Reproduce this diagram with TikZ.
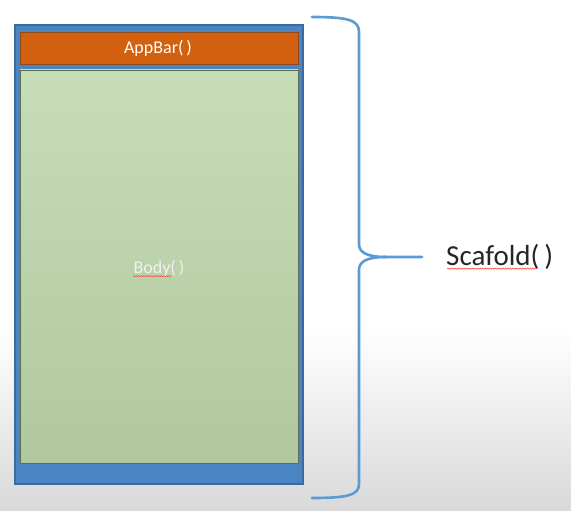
\documentclass[tikz,border=0pt]{standalone}
\usepackage{fontspec}
\setmainfont{Carlito}
\usetikzlibrary{decorations.pathmorphing}
\definecolor{bgbot}{HTML}{D9D9D9}
\definecolor{scafblue}{HTML}{4A84C2}
\definecolor{scafedge}{HTML}{3C6A9C}
\definecolor{appor}{HTML}{D2600F}
\definecolor{appedge}{HTML}{8E4A1A}
\definecolor{bodytop}{HTML}{C7DDB7}
\definecolor{bodybot}{HTML}{B1C79F}
\definecolor{bodyedge}{HTML}{5E6E55}
\definecolor{bracecol}{HTML}{5B9BD5}
\definecolor{labtext}{HTML}{262626}
\tikzset{
  boxbase/.style={anchor=north west, inner sep=0pt, outer sep=0pt},
  squig/.style={red!75!white, line width=0.5pt, decorate, decoration={snake, amplitude=0.6pt, segment length=2.5pt}}
}
\begin{document}
\begin{tikzpicture}[x=1pt,y=-1pt]
\useasboundingbox (0,0) rectangle (571,511);
\fill[white] (0,0) rectangle (571,330);
\shade[top color=white, bottom color=bgbot] (0,329.5) rectangle (571,511);
% scaffold frame
\node[boxbase, draw=scafedge, line width=1.2pt, fill=scafblue, minimum width=288, minimum height=459] (scaffold) at (15,25) {};
% appbar
\node[boxbase, draw=appedge, line width=0.8pt, fill=appor, minimum width=278, minimum height=32] (appbar) at (20,32) {};
\node[text=white, font=\fontsize{18}{20}\selectfont] (appbartxt) at (158,48) {AppBar(\,)};
% body
\node[boxbase, draw=bodyedge, line width=0.8pt, top color=bodytop, bottom color=bodybot, minimum width=278, minimum height=393] (body) at (20,70) {};
\node[text=white!94!black, font=\fontsize{18}{20}\selectfont] (bodytxt) at (159,268) {Body(\,)};
\draw[squig] (bodytxt.base west) ++(3,3) -- ++(38,0);
% brace
\coordinate (btop) at (312,17);
\coordinate (bbot) at (312,498);
\coordinate (tip) at (422,257);
\draw[bracecol, line width=2.6pt, line cap=round, line join=round]
  (btop) .. controls (348,17) and (359,20) .. (359,32)
  -- (359,244) .. controls (359,252) and (366,257) .. (386,257) -- (tip);
\draw[bracecol, line width=2.6pt, line cap=round, line join=round]
  (386,257) .. controls (366,257) and (359,262) .. (359,270)
  -- (359,484) .. controls (359,495) and (348,498) .. (bbot);
% label
\node[anchor=west, text=labtext, font=\fontsize{29}{33}\selectfont, inner sep=0pt] (scafold) at (446,257) {Scafold(\,)};
\draw[squig] (scafold.base west) ++(1,3) -- ++(90,0);
\end{tikzpicture}
\end{document}
